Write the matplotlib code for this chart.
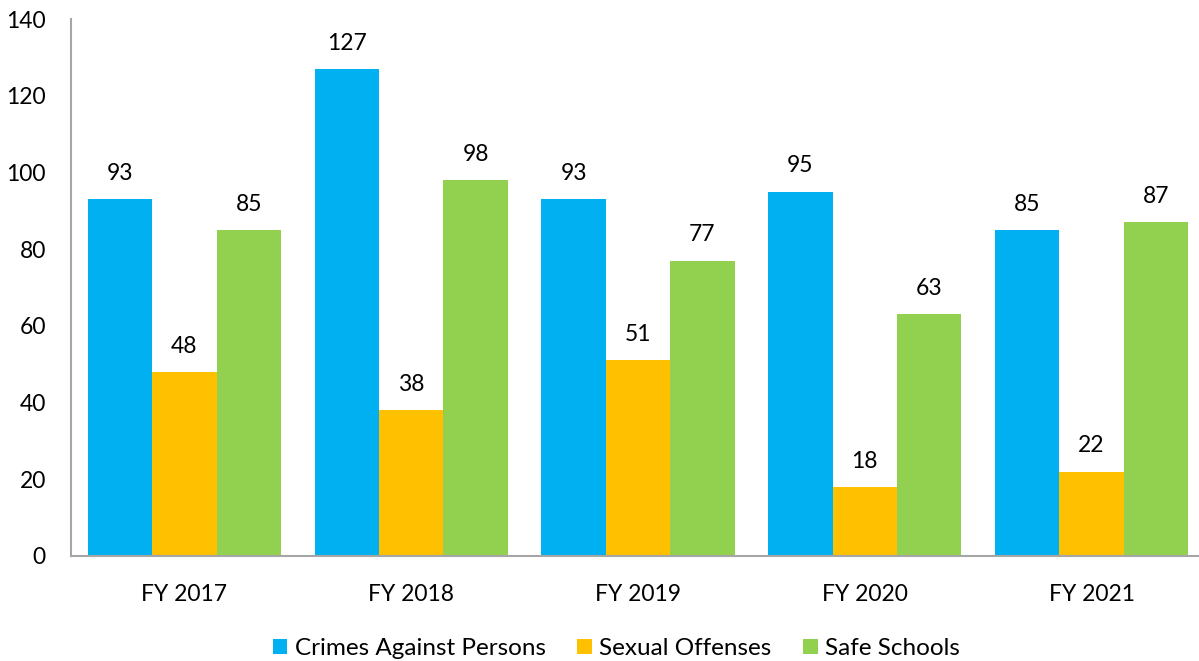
import matplotlib
matplotlib.use("Agg")
import matplotlib.pyplot as plt
import numpy as np

categories = ["FY 2017", "FY 2018", "FY 2019", "FY 2020", "FY 2021"]
series_names = ["Crimes Against Persons", "Sexual Offenses", "Safe Schools"]
crimes = [93, 127, 93, 95, 85]
sexual = [48, 38, 51, 18, 22]
safe = [85, 98, 77, 63, 87]
colors = ["#00B0F0", "#FFC000", "#92D050"]
yticks = [0, 20, 40, 60, 80, 100, 120, 140]

plt.rcParams['font.family'] = ['Lato', 'DejaVu Sans']

fig = plt.figure(figsize=(11.99, 6.61), dpi=100)
ax = fig.add_axes([0.0592, 0.159, 0.9458, 0.812])

x = np.arange(len(categories))
w = 0.284
for i, (vals, c, name) in enumerate(zip([crimes, sexual, safe], colors, series_names)):
    pos = x + (i - 1) * w
    bars = ax.bar(pos, vals, width=w, color=c, label=name)
    for p, v in zip(pos, vals):
        ax.text(p, v + 4, str(v), ha='center', va='bottom', fontsize=16.5, color='#000000')

ax.set_xlim(-0.5, len(categories) - 0.5)
ax.set_ylim(0, 140)
ax.set_yticks(yticks)
ax.set_xticks(x)
ax.set_xticklabels(categories)
ax.tick_params(axis='both', length=0, labelsize=16.5, colors='#000000')
ax.tick_params(axis='y', pad=18)
ax.tick_params(axis='x', pad=20)
for s in ['top', 'right']:
    ax.spines[s].set_visible(False)
for s in ['left', 'bottom']:
    ax.spines[s].set_color('#A6A6A6')
    ax.spines[s].set_linewidth(1.5)

leg = fig.legend(loc='lower center', bbox_to_anchor=(0.514, -0.03), ncol=3, frameon=False,
                 fontsize=17.5, handlelength=0.6, handleheight=0.6, handletextpad=0.3,
                 columnspacing=1.3)

fig.savefig("out.png", dpi=100)
